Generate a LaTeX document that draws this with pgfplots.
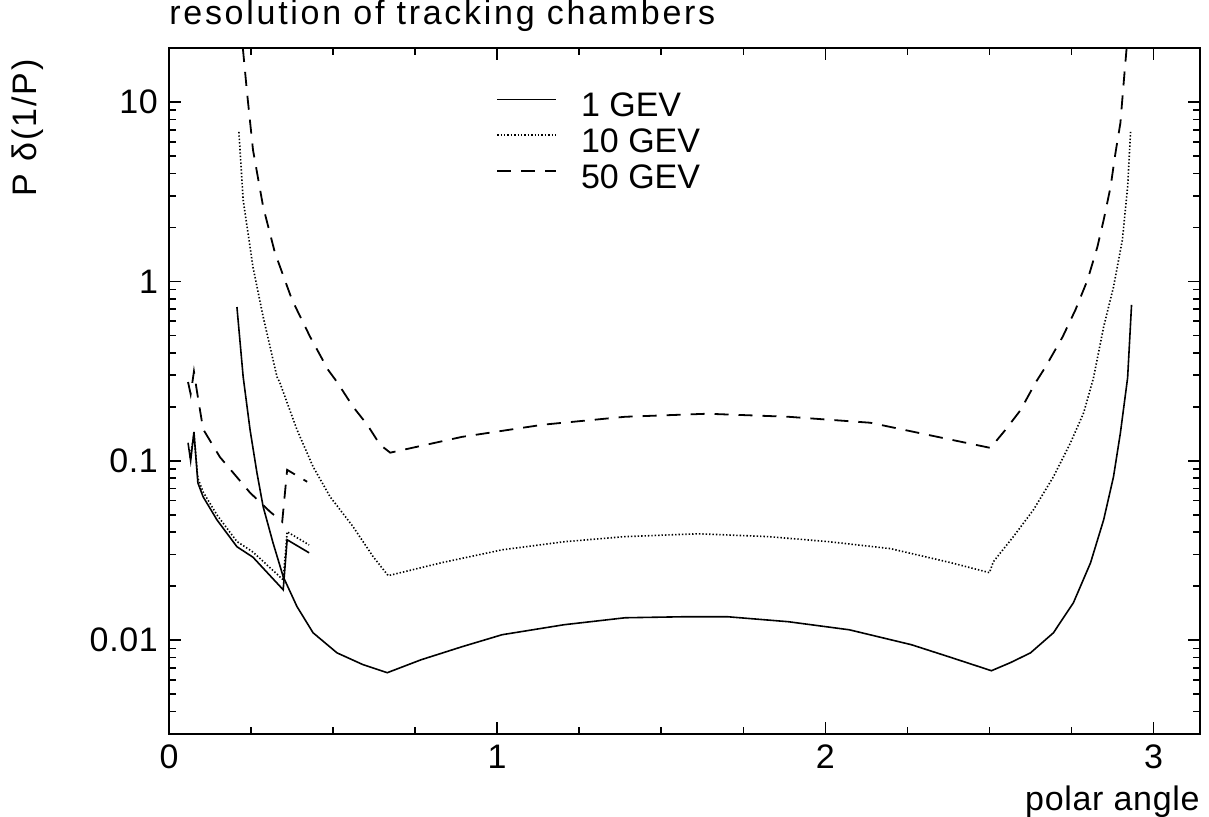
\documentclass[border=0pt]{standalone}
\usepackage{fontspec}
\setmainfont{Liberation Sans}
\usepackage{pgfplots}
\pgfplotsset{compat=1.18}
\newcommand\ff{\fontsize{17}{20}\selectfont\addfontfeatures{LetterSpace=2}}
\newcommand\lf{\fontsize{17}{20}\selectfont}
\newcommand\tf{\fontsize{17}{20}\selectfont\addfontfeatures{LetterSpace=8}}
\newcommand\yf{\fontsize{17}{20}\selectfont\addfontfeatures{LetterSpace=6}}

\begin{document}
\begin{tikzpicture}
\begin{axis}[
    at={(0,0)}, anchor=south west,
    scale only axis, width=515.5pt, height=343pt,
    xmin=0, xmax=3.14159,
    ymode=log, ymin=0.003, ymax=20,
    xtick={0,1,2,3}, xticklabels={0,1,2,3},
    minor xtick={0.25,0.5,0.75,1.25,1.5,1.75,2.25,2.5,2.75},
    ytick={0.01,0.1,1,10}, yticklabels={0.01,0.1,1,10},
    minor ytick={0.004,0.005,0.006,0.007,0.008,0.009,
                 0.02,0.03,0.04,0.05,0.06,0.07,0.08,0.09,
                 0.2,0.3,0.4,0.5,0.6,0.7,0.8,0.9,
                 2,3,4,5,6,7,8,9},
    major tick length=6pt, minor tick length=3.5pt,
    tick style={black, line width=0.8pt},
    axis line style={line width=1pt},
    tick label style={font=\ff},
    yticklabel style={xshift=-2pt},
    xticklabel style={yshift=-2pt},
    title={resolution of tracking chambers},
    title style={font=\tf, at={(rel axis cs:0,1)}, anchor=base west, yshift=6pt, inner sep=0pt},
    xlabel={polar angle},
    xlabel style={font=\ff, at={(rel axis cs:1,0)}, anchor=base east, yshift=-38pt, inner sep=0pt},
    ylabel={P δ(1/P)},
    ylabel style={font=\yf, at={(rel axis cs:-0.1368,0.884)}, anchor=center, inner sep=0pt},
    legend style={at={(rel axis cs:0.317,0.935)}, anchor=north west, draw=none, fill=none,
                  inner sep=0pt, row sep=4.5pt, column sep=12pt,
                  nodes={inner sep=0pt, font=\lf}},
    legend cell align=left,
    legend image code/.code={\draw[#1] (0pt,0.35em) -- (29.5pt,0.35em);},
    solidl/.style={black, line width=0.8pt},
    dottl/.style={black, line width=0.8pt, dash pattern=on 0.7pt off 1pt},
    dashl/.style={black, line width=0.9pt, dash pattern=on 7pt off 5pt},
]
% 1 GeV
\addplot[solidl] coordinates {
 (0.207,0.72) (0.226,0.294) (0.247,0.149) (0.268,0.0857) (0.287,0.0554)
 (0.317,0.0349) (0.348,0.0226) (0.390,0.0154) (0.439,0.0110) (0.512,0.0085)
 (0.591,0.00731) (0.665,0.00659) (0.768,0.00778) (0.893,0.0092) (1.015,0.01073)
 (1.204,0.0122) (1.390,0.01334) (1.576,0.01352) (1.701,0.01352) (1.887,0.01268)
 (2.073,0.01143) (2.262,0.00944) (2.384,0.0080) (2.506,0.00676) (2.564,0.0075)
 (2.625,0.0085) (2.695,0.0110) (2.756,0.0162) (2.808,0.0270) (2.848,0.0469)
 (2.878,0.0815) (2.899,0.143) (2.921,0.290) (2.933,0.740)};
\addlegendentry{1 GEV}
% 10 GeV
\addplot[dottl] coordinates {
 (0.213,6.81) (0.226,2.84) (0.256,1.20) (0.287,0.634) (0.329,0.294)
 (0.338,0.272) (0.390,0.149) (0.439,0.0927) (0.491,0.0630) (0.561,0.0429)
 (0.622,0.0292) (0.668,0.0229) (0.829,0.0270) (1.015,0.0319) (1.204,0.0354)
 (1.390,0.0378) (1.613,0.0392) (1.826,0.0378) (2.012,0.0354) (2.198,0.0324)
 (2.384,0.0270) (2.500,0.0238) (2.512,0.0274) (2.573,0.0378) (2.634,0.0533)
 (2.695,0.0815) (2.747,0.126) (2.787,0.185) (2.817,0.290) (2.848,0.558)
 (2.878,0.931) (2.905,1.70) (2.921,3.36) (2.930,6.81)};
\addlegendentry{10 GEV}
% 50 GeV
\addplot[dashl] coordinates {
 (0.225,20) (0.238,11.2) (0.256,5.40) (0.287,2.60) (0.323,1.44)
 (0.375,0.789) (0.430,0.491) (0.485,0.321) (0.512,0.275) (0.561,0.200)
 (0.604,0.159) (0.643,0.123) (0.674,0.111) (0.893,0.136) (1.140,0.159)
 (1.390,0.176) (1.640,0.183) (1.887,0.176) (2.137,0.163) (2.384,0.131)
 (2.503,0.118) (2.549,0.149) (2.595,0.192) (2.640,0.272) (2.671,0.334)
 (2.723,0.491) (2.762,0.694) (2.799,1.02) (2.829,1.56) (2.848,2.20)
 (2.869,3.36) (2.884,5.20) (2.899,7.64) (2.909,12.8) (2.918,20)};
\addlegendentry{50 GEV}
% small-angle pieces
\addplot[solidl, forget plot] coordinates {
 (0.058,0.126) (0.066,0.100) (0.076,0.145) (0.088,0.0754) (0.104,0.0630)
 (0.146,0.0469) (0.207,0.0332) (0.256,0.0290) (0.348,0.0191) (0.360,0.0363)
 (0.427,0.0307)};
\addplot[dottl, forget plot] coordinates {
 (0.064,0.104) (0.076,0.140) (0.088,0.080) (0.104,0.067) (0.146,0.050)
 (0.207,0.0355) (0.256,0.0310) (0.348,0.0217) (0.360,0.0402) (0.427,0.0340)};
\addplot[dashl, forget plot] coordinates {
 (0.058,0.275) (0.066,0.235) (0.076,0.315) (0.085,0.245) (0.104,0.150)
 (0.155,0.105) (0.247,0.0664) (0.308,0.0520) (0.345,0.0457) (0.360,0.0891)
 (0.421,0.0764)};
\end{axis}
\pgfresetboundingbox
\path[use as bounding box] (-84.5pt,-41pt) rectangle (520pt,367pt);
\end{tikzpicture}
\end{document}
